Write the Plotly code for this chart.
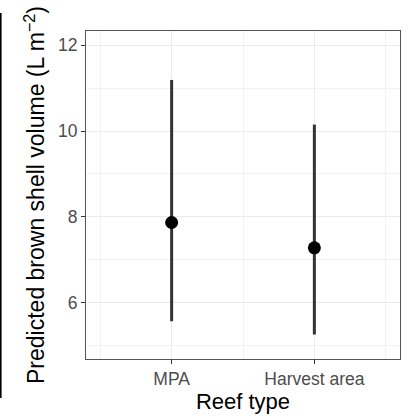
import plotly.graph_objects as go

categories = ["MPA", "Harvest area"]
x_pos = [1, 2]
estimate = [7.87, 7.28]
lower = [5.57, 5.26]
upper = [11.19, 10.15]

err_plus = [u - e for u, e in zip(upper, estimate)]
err_minus = [e - l for e, l in zip(estimate, lower)]

fig = go.Figure()
fig.add_trace(go.Scatter(
    x=x_pos, y=estimate, mode="markers",
    marker=dict(color="black", size=13, line=dict(width=0)),
    error_y=dict(type="data", array=err_plus, arrayminus=err_minus,
                 thickness=3, width=0, color="#333333"),
    showlegend=False,
))

font = "Liberation Sans, Arial, sans-serif"
fig.update_layout(
    width=408, height=416,
    margin=dict(l=86, r=8, t=31, b=57),
    paper_bgcolor="white", plot_bgcolor="white",
    font=dict(family=font),
    xaxis=dict(
        range=[0.4, 2.6], tickvals=x_pos, ticktext=categories,
        showgrid=True, gridcolor="#ebebeb", gridwidth=1.1,
        ticks="outside", ticklen=4, tickcolor="#333333", tickwidth=1.1,
        tickfont=dict(size=17.5, color="#4d4d4d"),
        showline=True, linecolor="#555555", linewidth=1.2, mirror=True,
        zeroline=False,
        minor=dict(tick0=0.5, dtick=1, showgrid=True, gridcolor="#f2f2f2", gridwidth=0.8),
        title=dict(text="Reef type", font=dict(size=22, color="black"), standoff=1),
    ),
    yaxis=dict(
        range=[4.69, 12.33], tick0=0, dtick=2,
        showgrid=True, gridcolor="#ebebeb", gridwidth=1.1,
        ticks="outside", ticklen=4, tickcolor="#333333", tickwidth=1.1,
        tickfont=dict(size=17.5, color="#4d4d4d"),
        showline=True, linecolor="#555555", linewidth=1.2, mirror=True,
        zeroline=False,
        minor=dict(tick0=0, dtick=1, showgrid=True, gridcolor="#f2f2f2", gridwidth=0.8),
        title=dict(text="Predicted brown shell volume (L m<sup>−2</sup>)",
                   font=dict(size=23, color="black"), standoff=6),
    ),
)

fig.add_shape(type="line", xref="paper", yref="paper",
              x0=-86/314 + 0.8/314, x1=-86/314 + 0.8/314,
              y0=(359-398)/328, y1=(359-13)/328,
              line=dict(color="black", width=1.6))

fig.write_html("out.html")
